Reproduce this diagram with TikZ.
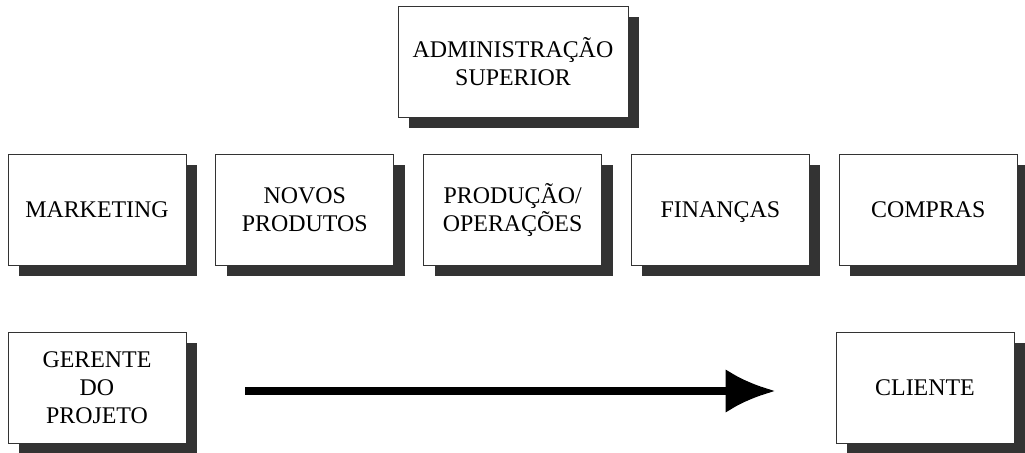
\documentclass[tikz,border=0pt]{standalone}
\usepackage{fontspec}
\setmainfont{Liberation Serif}
\usetikzlibrary{arrows.meta,positioning,shadows}

\begin{document}
\begin{tikzpicture}[
    x=1bp, y=-1bp,
    font=\fontsize{24}{28}\selectfont,
    dept/.style={draw=black!80, line width=0.8bp, fill=white, minimum width=178bp,
                 minimum height=111bp, align=center, inner sep=2bp,
                 drop shadow={shadow xshift=11bp, shadow yshift=-11bp,
                              fill=black!80, opacity=1}},
    headbox/.style={dept, minimum width=230bp},
    arrow/.style={-{Latex[length=50bp,width=44bp]}, line width=8bp, black}
]
\useasboundingbox (0,0) rectangle (1025,453);
\node[headbox] (admin) at (513,62) {ADMINISTRAÇÃO\\SUPERIOR};

\node[dept] (mkt) at (97,210) {MARKETING};
\node[dept, right=29bp of mkt] (novos) {NOVOS\\PRODUTOS};
\node[dept, right=29bp of novos] (prod) {PRODUÇÃO/\\OPERAÇÕES};
\node[dept, right=29bp of prod, text depth=0pt] (fin) {FINANÇAS};
\node[dept, right=29bp of fin] (compras) {COMPRAS};

\node[dept] (gerente) at (97,388) {GERENTE\\DO\\PROJETO};
\node[dept] (cliente) at (925,388) {CLIENTE};
\draw[arrow] ([xshift=59bp,yshift=-3bp]gerente.east)
    -- ([xshift=-60bp,yshift=-3bp]cliente.west);
\end{tikzpicture}
\end{document}
